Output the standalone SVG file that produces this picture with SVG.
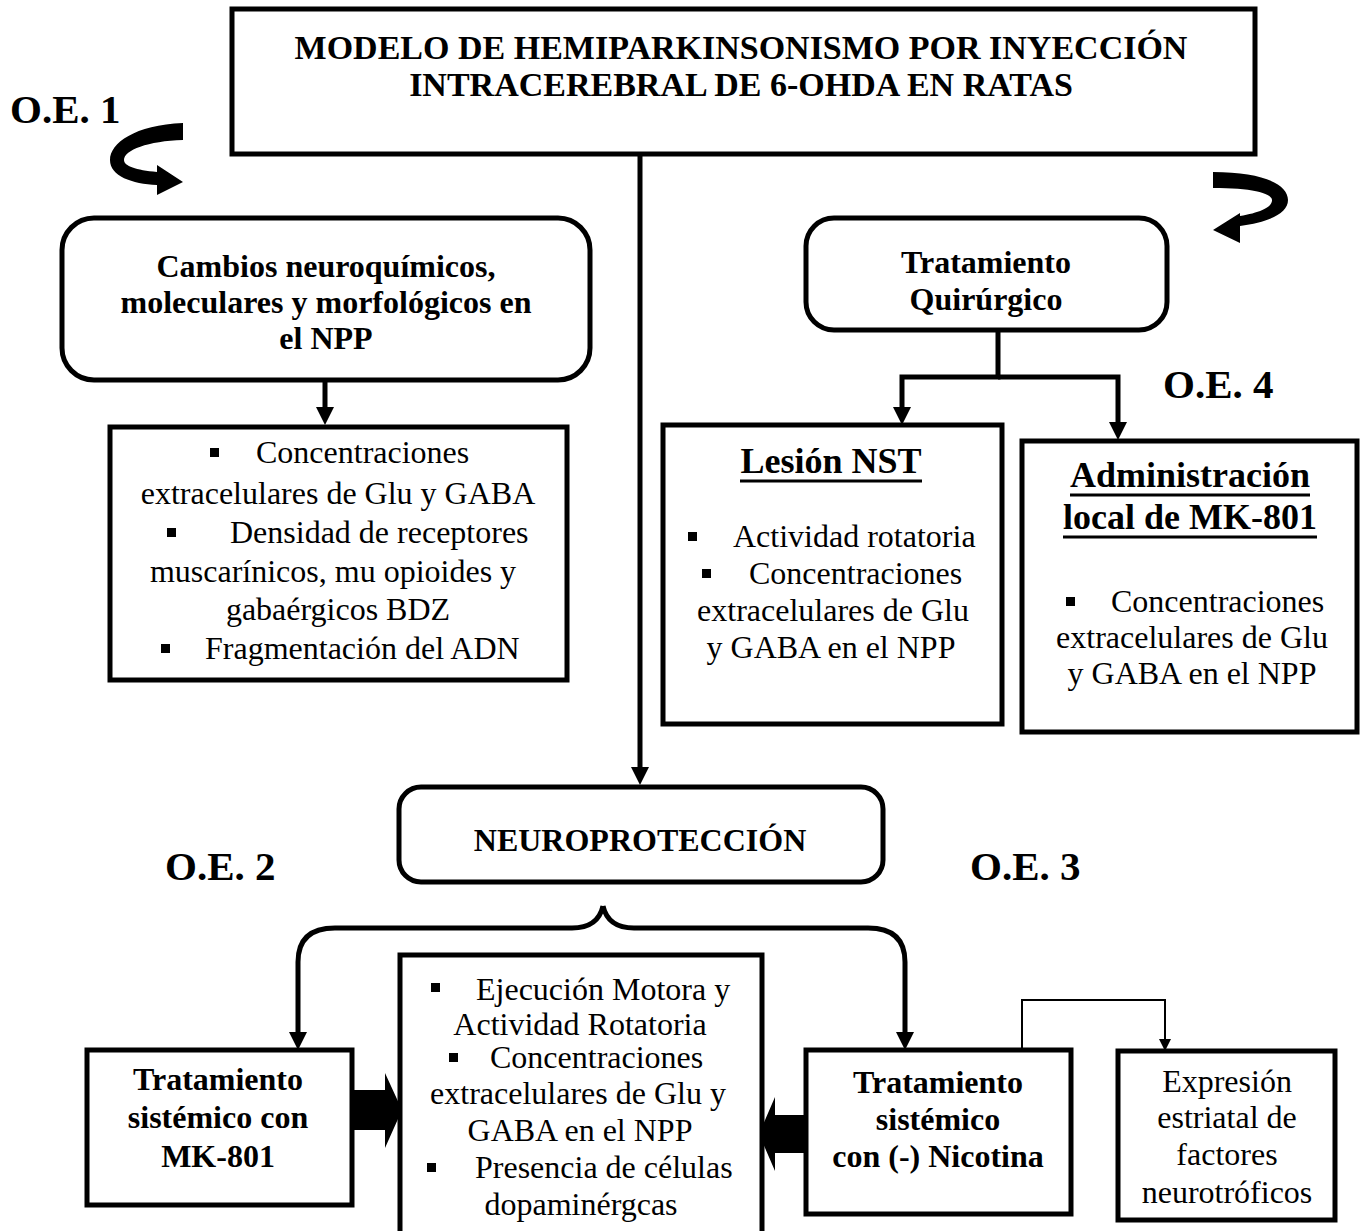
<svg xmlns="http://www.w3.org/2000/svg" width="1367" height="1231" viewBox="0 0 1367 1231">
<style>
.box{fill:#fff;stroke:#000;stroke-width:5}
.t{font-family:"Liberation Serif","Times New Roman",serif;font-size:32px;fill:#000}
.m{text-anchor:middle}
.b{font-weight:bold}
.h{font-size:36px;font-weight:bold;text-anchor:middle}
.oe{font-family:"Liberation Serif","Times New Roman",serif;font-size:41px;font-weight:bold;fill:#000}
.ln{fill:none;stroke:#000;stroke-width:5}
.thin{fill:none;stroke:#000;stroke-width:2}
.ul{stroke:#000;stroke-width:3}
.bul{fill:#000}
</style>
<defs>
<marker id="ah" markerUnits="userSpaceOnUse" markerWidth="18" markerHeight="18" viewBox="0 -9 18 18" refX="2" refY="0" orient="auto"><path d="M0,-9 L18,0 L0,9 z" fill="#000"/></marker>
<marker id="ahs" markerUnits="userSpaceOnUse" markerWidth="12" markerHeight="12" viewBox="0 -6 12 12" refX="1" refY="0" orient="auto"><path d="M0,-6 L12,0 L0,6 z" fill="#000"/></marker>
</defs>
<rect width="1367" height="1231" fill="#fff"/>

<g id="connectors">
<path class="ln" d="M640,153 V769" marker-end="url(#ah)"/>
<path class="ln" d="M325,380 V409" marker-end="url(#ah)"/>
<path class="ln" d="M998,330 V377 H902 V409" marker-end="url(#ah)"/>
<path class="ln" d="M998,377 H1118 V424" marker-end="url(#ah)"/>
<path class="ln" d="M603,906 Q598,928 572,928 H335 Q298,928 298,962 V1034" marker-end="url(#ah)"/>
<path class="ln" d="M603,906 Q608,928 634,928 H868 Q905,928 905,962 V1034" marker-end="url(#ah)"/>
<path class="thin" d="M1022,1050 V1000 H1165 V1040" marker-end="url(#ahs)"/>
<polygon points="352,1090 385,1090 385,1073 402,1110 385,1148 385,1130 352,1130" fill="#000"/>
<polygon points="806,1115 775,1115 775,1097 759,1134 775,1171 775,1153 806,1153" fill="#000"/>
<path d="M183,123 C135,125 110,143 110,160 C110,176 132,184 157,185 L157,195 L183,182 L157,165 L157,172 C136,170 124,166 124,160 C124,150 148,141 183,140 Z" fill="#000"/>
<path d="M1213,172 C1262,172 1288,184 1288,200 C1288,214 1268,222 1240,226 L1240,243 L1213,230 L1240,213 L1240,216 C1258,213 1271,208 1272,201 C1273,193 1252,188 1213,188 Z" fill="#000"/>
</g>

<g id="labels-oe">
<text class="oe" x="10" y="123">O.E. 1</text>
<text class="oe" x="1163" y="398">O.E. 4</text>
<text class="oe" x="165" y="880">O.E. 2</text>
<text class="oe" x="970" y="880">O.E. 3</text>
</g>

<g id="node-modelo">
<rect class="box" x="232" y="9" width="1023" height="145"/>
<text class="t b m" x="741" y="59" style="font-size:34px">MODELO DE HEMIPARKINSONISMO POR INYECCIÓN</text>
<text class="t b m" x="741" y="96" style="font-size:34px">INTRACEREBRAL DE 6-OHDA EN RATAS</text>
</g>

<g id="node-cambios">
<rect class="box" x="62" y="218" width="528" height="162" rx="32"/>
<text class="t b m" x="326" y="277">Cambios neuroquímicos,</text>
<text class="t b m" x="326" y="313">moleculares y morfológicos en</text>
<text class="t b m" x="326" y="349">el NPP</text>
</g>

<g id="node-concentraciones">
<rect class="box" x="110" y="427" width="457" height="253"/>
<rect class="bul" x="210" y="448" width="9" height="9"/>
<text class="t" x="256" y="463">Concentraciones</text>
<text class="t m" x="338" y="504">extracelulares de Glu y GABA</text>
<rect class="bul" x="167" y="528" width="9" height="9"/>
<text class="t" x="230" y="543">Densidad de receptores</text>
<text class="t m" x="333" y="582">muscarínicos, mu opioides y</text>
<text class="t m" x="338" y="620">gabaérgicos BDZ</text>
<rect class="bul" x="161" y="644" width="9" height="9"/>
<text class="t" x="205" y="659">Fragmentación del ADN</text>
</g>

<g id="node-quirurgico">
<rect class="box" x="806" y="218" width="361" height="112" rx="28"/>
<text class="t b m" x="986" y="273">Tratamiento</text>
<text class="t b m" x="986" y="310">Quirúrgico</text>
</g>

<g id="node-lesion">
<rect class="box" x="663" y="425" width="339" height="299"/>
<text class="t h" x="831" y="473">Lesión NST</text>
<line class="ul" x1="740" y1="481" x2="922" y2="481"/>
<rect class="bul" x="688" y="532" width="9" height="9"/>
<text class="t" x="733" y="547">Actividad rotatoria</text>
<rect class="bul" x="702" y="569" width="9" height="9"/>
<text class="t" x="749" y="584">Concentraciones</text>
<text class="t m" x="833" y="621">extracelulares de Glu</text>
<text class="t m" x="831" y="658">y GABA en el NPP</text>
</g>

<g id="node-administracion">
<rect class="box" x="1022" y="441" width="335" height="291"/>
<text class="t h" x="1190" y="487">Administración</text>
<line class="ul" x1="1070" y1="495" x2="1310" y2="495"/>
<text class="t h" x="1190" y="529">local de MK-801</text>
<line class="ul" x1="1063" y1="537" x2="1317" y2="537"/>
<rect class="bul" x="1066" y="597" width="9" height="9"/>
<text class="t" x="1111" y="612">Concentraciones</text>
<text class="t m" x="1192" y="648">extracelulares de Glu</text>
<text class="t m" x="1192" y="684">y GABA en el NPP</text>
</g>

<g id="node-neuroproteccion">
<rect class="box" x="399" y="787" width="484" height="95" rx="22"/>
<text class="t b m" x="640" y="851">NEUROPROTECCIÓN</text>
</g>

<g id="node-resultados">
<rect class="box" x="400" y="955" width="362" height="290"/>
<rect class="bul" x="431" y="983" width="9" height="9"/>
<text class="t" x="476" y="1000">Ejecución Motora y</text>
<text class="t m" x="580" y="1035">Actividad Rotatoria</text>
<rect class="bul" x="449" y="1053" width="9" height="9"/>
<text class="t" x="490" y="1068">Concentraciones</text>
<text class="t m" x="578" y="1104">extracelulares de Glu y</text>
<text class="t m" x="580" y="1141">GABA en el NPP</text>
<rect class="bul" x="427" y="1163" width="9" height="9"/>
<text class="t" x="475" y="1178">Presencia de células</text>
<text class="t m" x="581" y="1215">dopaminérgcas</text>
</g>

<g id="node-mk801">
<rect class="box" x="87" y="1050" width="265" height="155"/>
<text class="t b m" x="218" y="1090">Tratamiento</text>
<text class="t b m" x="218" y="1128">sistémico con</text>
<text class="t b m" x="218" y="1167">MK-801</text>
</g>

<g id="node-nicotina">
<rect class="box" x="806" y="1050" width="265" height="164"/>
<text class="t b m" x="938" y="1093">Tratamiento</text>
<text class="t b m" x="938" y="1130">sistémico</text>
<text class="t b m" x="938" y="1167">con (-) Nicotina</text>
</g>

<g id="node-expresion">
<rect class="box" x="1118" y="1051" width="217" height="169"/>
<text class="t m" x="1227" y="1092">Expresión</text>
<text class="t m" x="1227" y="1128">estriatal de</text>
<text class="t m" x="1227" y="1165">factores</text>
<text class="t m" x="1227" y="1203">neurotróficos</text>
</g>
</svg>
